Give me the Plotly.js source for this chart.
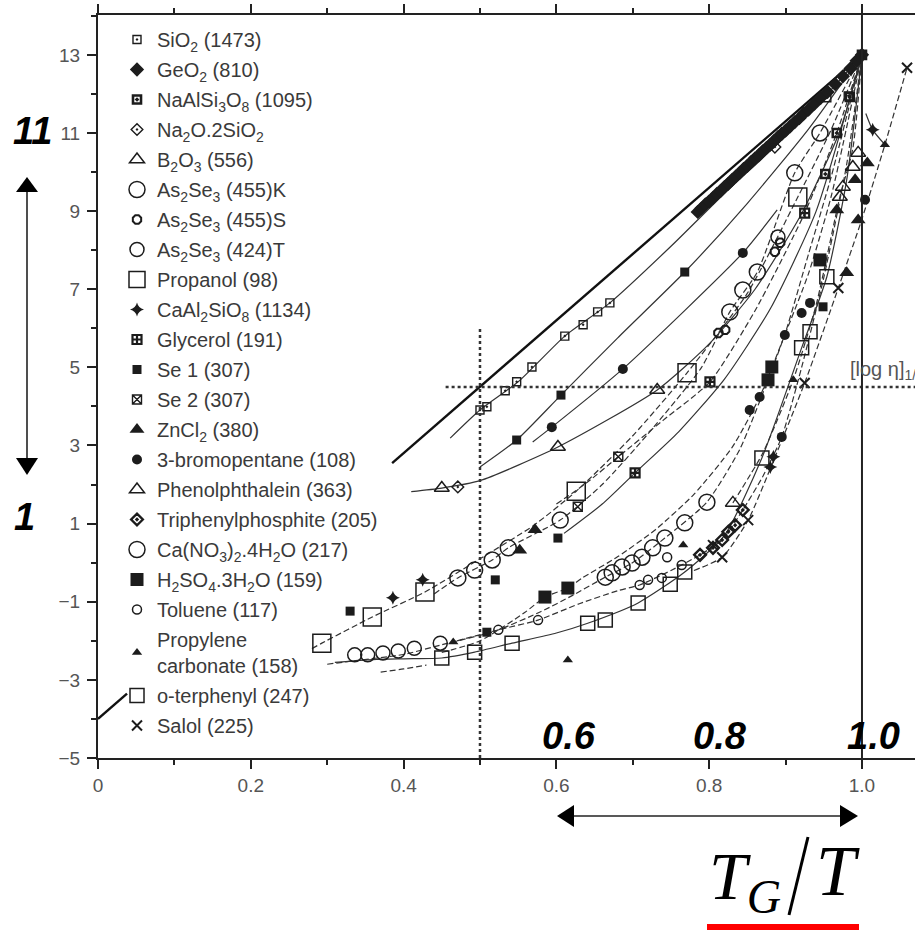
<!DOCTYPE html>
<html><head><meta charset="utf-8">
<script src="https://cdn.plot.ly/plotly-3.0.1.min.js"></script>
<style>html,body{margin:0;padding:0;background:#fff}#chart{width:915px;height:931px}</style>
</head><body><div id="chart"></div>
<script>
// ---------- reference lines ----------
// strong-liquid (Arrhenius) line, drawn in two visible parts as in the original
const strongX = [0, 0.038, null, 0.385, 1.0];
const strongY = [-4, -3.35, null, 2.55, 13];
const tgHalfX = 0.5;          // vertical dotted line
const etaHalfY = 4.5;         // horizontal dotted line [log eta]1/2
const tgOne = 1.0;            // Tg/T = 1

// ---------- curves ----------
const cSio2X = [0.461,0.50,0.55,0.611,0.67,0.75,0.82,0.886,0.95,1.0];
const cSio2Y = [3.19,3.91,4.63,5.80,6.65,8.10,9.45,10.65,11.90,13.0];
const cSe1X = [0.50,0.548,0.606,0.68,0.768,0.85,0.93,1.0];
const cSe1Y = [2.45,3.14,4.29,5.75,7.44,9.20,11.10,13.0];
const cBromX = [0.569,0.594,0.687,0.844,0.889];
const cBromY = [3.09,3.47,4.96,7.93,9.03];
const cB2o3X = [0.41,0.45,0.50,0.602,0.732,0.80,0.86,0.92,0.97,1.0];
const cB2o3Y = [1.82,1.91,2.10,2.96,4.42,5.60,7.00,8.90,11.0,13.0];
const cPropX = [0.28,0.293,0.359,0.428,0.50,0.57,0.626,0.70,0.771,0.85,0.916,0.96,1.0];
const cPropY = [-2.20,-2.06,-1.39,-0.75,0.10,0.95,1.83,3.25,4.86,6.90,9.36,11.10,13.0];
const cAsX = [0.44,0.471,0.516,0.537,0.605,0.66,0.72,0.79,0.827,0.863,0.912,0.945,1.0];
const cAsY = [-0.80,-0.39,0.07,0.38,1.09,2.00,3.30,5.00,6.42,7.44,9.98,11.0,13.0];
const cGlyX = [0.60,0.64,0.681,0.74,0.801,0.86,0.925,0.967,1.0];
const cGlyY = [1.50,2.05,2.71,3.65,4.63,6.45,8.95,11.0,13.0];
const cGly2X = [0.61,0.66,0.703,0.76,0.82,0.88,0.94,1.0];
const cGly2Y = [0.75,1.50,2.30,3.35,4.70,6.50,9.00,13.0];
const cFrag1X = [0.30,0.34,0.40,0.45,0.52,0.58,0.62,0.664,0.699,0.742,0.797,0.84,0.877,0.90,0.93,0.96,1.0];
const cFrag1Y = [-2.60,-2.50,-2.35,-2.10,-1.75,-1.25,-0.85,-0.37,-0.01,0.63,1.55,2.90,4.68,5.90,7.90,9.90,13.0];
const cFrag2X = [0.45,0.50,0.559,0.585,0.615,0.634,0.68,0.73,0.78,0.83,0.866,0.899,0.93,0.96,1.0];
const cFrag2Y = [-2.30,-2.00,-1.27,-0.88,-0.65,-0.39,0.15,0.85,1.75,2.95,4.24,5.83,7.40,9.40,13.0];
const cFrag3X = [0.47,0.524,0.576,0.63,0.68,0.709,0.75,0.788,0.817,0.844,0.87,0.895,0.921,0.95,0.98,1.0];
const cFrag3Y = [-2.00,-1.72,-1.47,-1.05,-0.72,-0.57,-0.20,0.20,0.58,1.35,2.20,3.22,5.00,7.30,10.2,13.0];
const cOtpX = [0.31,0.36,0.40,0.45,0.493,0.542,0.60,0.641,0.707,0.768,0.82,0.869,0.921,0.954,0.98,1.0];
const cOtpY = [-2.55,-2.48,-2.46,-2.44,-2.29,-2.06,-1.80,-1.55,-1.03,-0.24,0.70,2.68,5.50,7.32,9.80,13.0];
const cSalolX = [0.78,0.817,0.851,0.884,0.925,0.969,1.0,1.03,1.059];
const cSalolY = [-0.20,0.14,1.09,2.60,4.60,7.03,8.80,10.70,12.67];
const cPhenX = [0.831,0.87,0.91,0.94,0.971,0.988,1.0];
const cPhenY = [1.53,2.80,4.68,6.60,9.36,10.60,13.0];
const cShortX = [1.005,1.014,1.03];
const cShortY = [11.50,11.08,10.70];
const cLowX = [0.37,0.40,0.43];
const cLowY = [-2.80,-2.72,-2.62];

// ---------- series markers (Tg/T, log viscosity) ----------
const sio2X = [0.500,0.509,0.533,0.548,0.568,0.611,0.635,0.654,0.670,0.954,0.982];
const sio2Y = [3.91,3.99,4.40,4.63,5.01,5.80,6.09,6.42,6.65,11.90,11.95];
const geo2X = [0.785,0.790,0.795,0.800,0.805,0.810,0.815,0.820,0.825,0.830,0.835,0.840,0.845,0.850,0.855,0.860,0.865,0.870,0.875,0.880,0.885,0.890,0.895,0.900,0.906,0.912,0.918,0.924,0.930,0.938,0.946,0.955,0.965,0.975,0.985,0.993,1.000];
const geo2Y = [8.98,9.07,9.17,9.25,9.34,9.44,9.52,9.62,9.70,9.80,9.89,9.98,10.08,10.16,10.26,10.35,10.43,10.53,10.62,10.70,10.80,10.89,10.98,11.06,11.17,11.28,11.38,11.50,11.60,11.75,11.90,12.05,12.25,12.45,12.65,12.85,13.0];
const albX = [0.952,0.967,0.984,1.000];
const albY = [9.95,11.00,11.92,13.00];
const naX = [0.471,0.886];
const naY = [1.94,10.64];
const b2o3X = [0.450,0.602,0.732];
const b2o3Y = [1.91,2.96,4.42];
const askX = [0.471,0.493,0.516,0.537,0.605,0.827,0.844,0.863,0.912,0.945];
const askY = [-0.39,-0.19,0.07,0.38,1.09,6.42,6.98,7.44,9.98,11.00];
const assX = [0.812,0.821,0.886,0.893];
const assY = [5.88,5.96,7.96,8.19];
const astX = [0.336,0.353,0.373,0.393,0.414,0.448,0.890];
const astY = [-2.36,-2.36,-2.31,-2.26,-2.19,-2.06,8.34];
const propX = [0.293,0.359,0.428,0.626,0.771,0.916];
const propY = [-2.06,-1.39,-0.75,1.83,4.86,9.36];
const anorX = [0.386,0.425,0.880,0.884,1.014];
const anorY = [-0.90,-0.44,2.45,2.71,11.08];
const glyX = [0.703,0.801,0.925];
const glyY = [2.30,4.63,8.95];
const se1X = [0.330,0.509,0.520,0.548,0.602,0.606,0.768,0.949];
const se1Y = [-1.24,-1.78,-0.44,3.14,0.63,4.29,7.44,6.55];
const se2X = [0.628,0.681];
const se2Y = [1.43,2.71];
const zncl2X = [0.552,0.572,0.967,0.980,0.991,0.995,1.007];
const zncl2Y = [0.32,0.84,9.03,7.42,9.80,8.77,10.23];
const bromX = [0.594,0.687,0.844,0.853,0.866,0.895,0.899,0.921,0.932,1.004];
const bromY = [3.47,4.96,7.93,3.91,4.24,3.22,5.83,6.39,6.65,9.29];
const phenX = [0.831,0.971,0.975,0.988,0.995];
const phenY = [1.53,9.36,9.62,10.13,10.49];
const tppX = [0.788,0.805,0.817,0.825,0.834,0.844];
const tppY = [0.20,0.38,0.58,0.79,0.96,1.35];
const canX = [0.664,0.673,0.686,0.699,0.712,0.726,0.742,0.768,0.797];
const canY = [-0.37,-0.26,-0.11,-0.01,0.14,0.38,0.63,1.02,1.55];
const h2so4X = [0.585,0.615,0.877,0.882,0.945];
const h2so4Y = [-0.88,-0.65,4.68,5.01,7.75];
const tolX = [0.524,0.576,0.709,0.720,0.738,0.745,0.764];
const tolY = [-1.72,-1.47,-0.57,-0.44,-0.39,0.14,-0.06];
const pcX = [0.465,0.615,0.766,0.910,1.030];
const pcY = [-2.03,-2.49,0.45,4.68,10.70];
const otpX = [0.450,0.493,0.542,0.641,0.664,0.707,0.749,0.768,0.869,0.921,0.932,0.954];
const otpY = [-2.44,-2.29,-2.06,-1.55,-1.47,-1.03,-0.55,-0.24,2.68,5.50,5.91,7.32];
const salolX = [0.805,0.817,0.851,0.925,0.969,1.059];
const salolY = [0.45,0.14,1.09,4.60,7.03,12.67];

const seriesNames = [
  'SiO<sub>2</sub> (1473)','GeO<sub>2</sub> (810)','NaAlSi<sub>3</sub>O<sub>8</sub> (1095)',
  'Na<sub>2</sub>O.2SiO<sub>2</sub>','B<sub>2</sub>O<sub>3</sub> (556)',
  'As<sub>2</sub>Se<sub>3</sub> (455)K','As<sub>2</sub>Se<sub>3</sub> (455)S','As<sub>2</sub>Se<sub>3</sub> (424)T',
  'Propanol (98)','CaAl<sub>2</sub>SiO<sub>8</sub> (1134)','Glycerol (191)','Se 1 (307)','Se 2 (307)',
  'ZnCl<sub>2</sub> (380)','3-bromopentane (108)','Phenolphthalein (363)','Triphenylphosphite (205)',
  'Ca(NO<sub>3</sub>)<sub>2</sub>.4H<sub>2</sub>O (217)','H<sub>2</sub>SO<sub>4</sub>.3H<sub>2</sub>O (159)',
  'Toluene (117)','Propylene<br>carbonate (158)','o-terphenyl (247)','Salol (225)'
];

// ---------- build ----------
const INK = '#1c1c1c';
const curveDefs = [
  [cSio2X,cSio2Y,'solid'],[cSe1X,cSe1Y,'solid'],[cBromX,cBromY,'solid'],[cB2o3X,cB2o3Y,'solid'],
  [cPropX,cPropY,'6px,3px'],[cAsX,cAsY,'6px,3px'],[cGlyX,cGlyY,'6px,3px'],[cGly2X,cGly2Y,'solid'],
  [cFrag1X,cFrag1Y,'6px,3px'],[cFrag2X,cFrag2Y,'6px,3px'],[cFrag3X,cFrag3Y,'6px,3px'],
  [cOtpX,cOtpY,'solid'],[cSalolX,cSalolY,'6px,3px'],[cPhenX,cPhenY,'6px,3px'],
  [cShortX,cShortY,'solid'],[cLowX,cLowY,'6px,3px']
];
const traces = [];
traces.push({type:'scatter',mode:'lines',x:strongX,y:strongY,showlegend:false,hoverinfo:'skip',connectgaps:false,
  line:{color:'#111',width:2.4}});
curveDefs.forEach(c=>traces.push({type:'scatter',mode:'lines',x:c[0],y:c[1],showlegend:false,hoverinfo:'skip',
  line:{color:'#333',width:1.2,dash:c[2],shape:'spline',smoothing:0.6}}));

const markerDefs = [
  [sio2X,sio2Y,'square-open-dot',8,1.4],
  [geo2X,geo2Y,'diamond',11,0],
  [albX,albY,'square-open-dot',8,2.6],
  [naX,naY,'diamond-open-dot',9,1.4],
  [b2o3X,b2o3Y,'triangle-up-open',13,1.5],
  [askX,askY,'circle-open',16,1.5],
  [assX,assY,'octagon-open',9,2],
  [astX,astY,'circle-open',14,1.5],
  [propX,propY,'square-open',18,1.5],
  [anorX,anorY,'star-diamond',10,0],
  [glyX,glyY,'square-cross-open',9,2.2],
  [se1X,se1Y,'square',9,0],
  [se2X,se2Y,'square-x-open',9,1.4],
  [zncl2X,zncl2Y,'triangle-up',13,0],
  [bromX,bromY,'circle',10,0],
  [phenX,phenY,'triangle-up-open',13,1.5],
  [tppX,tppY,'diamond-open-dot',9,2.4],
  [canX,canY,'circle-open',16,1.5],
  [h2so4X,h2so4Y,'square',13,0],
  [tolX,tolY,'circle-open',9,1.5],
  [pcX,pcY,'triangle-up',9,0],
  [otpX,otpY,'square-open',14,1.5],
  [salolX,salolY,'x-thin-open',10,2]
];
markerDefs.forEach((m,i)=>traces.push({type:'scatter',mode:'markers',x:m[0],y:m[1],name:seriesNames[i],
  legendgroup:'g'+i,hoverinfo:'name',
  marker:{symbol:m[2],size:m[3],color:INK,line:{color:INK,width:m[4]}}}));

// paper helpers for overlay placement
const PX = px => (px-98)/817;
const PY = py => (758-py)/743;

const shapes = [
  {type:'line',xref:'x',yref:'y',x0:tgHalfX,x1:tgHalfX,y0:-5,y1:6.0,line:{color:'#333',width:2.5,dash:'dot'}},
  {type:'line',xref:'x',yref:'y',x0:0.455,x1:1.0694,y0:etaHalfY,y1:etaHalfY,line:{color:'#333',width:2.5,dash:'dot'}},
  {type:'line',xref:'x',yref:'paper',x0:tgOne,x1:tgOne,y0:0,y1:1,line:{color:'#222',width:2}},
  // vertical double arrow
  {type:'line',xref:'paper',yref:'paper',x0:PX(27),x1:PX(27),y0:PY(190),y1:PY(460),line:{color:'#222',width:1.6}},
  {type:'path',xref:'paper',yref:'paper',path:`M${PX(27)},${PY(177)} L${PX(16)},${PY(192)} L${PX(38)},${PY(192)} Z`,fillcolor:'#000',line:{width:0}},
  {type:'path',xref:'paper',yref:'paper',path:`M${PX(27)},${PY(475)} L${PX(16)},${PY(458)} L${PX(38)},${PY(458)} Z`,fillcolor:'#000',line:{width:0}},
  // horizontal double arrow
  {type:'line',xref:'paper',yref:'paper',x0:PX(572),x1:PX(842),y0:PY(816),y1:PY(816),line:{color:'#222',width:1.6}},
  {type:'path',xref:'paper',yref:'paper',path:`M${PX(557)},${PY(816)} L${PX(574)},${PY(805)} L${PX(574)},${PY(827)} Z`,fillcolor:'#000',line:{width:0}},
  {type:'path',xref:'paper',yref:'paper',path:`M${PX(858)},${PY(816)} L${PX(840)},${PY(805)} L${PX(840)},${PY(827)} Z`,fillcolor:'#000',line:{width:0}},
  // slash of Tg/T
  {type:'line',xref:'paper',yref:'paper',x0:PX(789),x1:PX(808),y0:PY(915),y1:PY(837),line:{color:'#000',width:3}},
  // red underline
  {type:'rect',xref:'paper',yref:'paper',x0:PX(707),x1:PX(859),y0:PY(930),y1:PY(924),fillcolor:'#ff0000',line:{width:0}}
];

const bigFont = {family:'Liberation Sans, Arial, sans-serif',size:38,color:'#000'};
const serif = {family:'Liberation Serif, Times New Roman, serif',color:'#000'};
const ann = (px,py,text,font,xa) => ({xref:'paper',yref:'paper',x:PX(px),y:PY(py),text:text,showarrow:false,
  xanchor:xa||'center',yanchor:'middle',font:font});
const annotations = [
  {xref:'x',yref:'y',x:0.982,y:4.93,xanchor:'left',yanchor:'middle',showarrow:false,
   text:'[log η]<sub>1/2</sub>',font:{family:'Liberation Sans, Arial, sans-serif',size:20,color:'#555'}},
  ann(32,131,'<b><i>11</i></b>',bigFont),
  ann(24,517,'<b><i>1</i></b>',bigFont),
  ann(569,736,'<b><i>0.6</i></b>',bigFont),
  ann(720,736,'<b><i>0.8</i></b>',bigFont),
  ann(873,736,'<b><i>1.0</i></b>',bigFont),
  ann(707,880,'<i>T<sub>G</sub></i>',Object.assign({size:68},serif),'left'),
  ann(814,871,'<i>T</i>',Object.assign({size:71},serif),'left')
];

const tickFont = {family:'Liberation Sans, Arial, sans-serif',size:19,color:'#555'};
const layout = {
  width:915,height:931,
  margin:{l:98,r:0,t:15,b:173,pad:0},
  paper_bgcolor:'#fff',plot_bgcolor:'#fff',
  showlegend:true,
  legend:{x:PX(117),y:PY(20),xanchor:'left',yanchor:'top',bgcolor:'rgba(0,0,0,0)',borderwidth:0,
    font:{family:'Liberation Sans, Arial, sans-serif',size:20,color:'#3a3a3a'},
    tracegroupgap:1,itemsizing:'trace'},
  xaxis:{range:[0,1.0694],showgrid:false,zeroline:false,showline:true,linecolor:'#222',linewidth:2,
    mirror:'ticks',ticks:'outside',ticklen:9,tickwidth:2,tickcolor:'#222',
    tickmode:'array',tickvals:[0,0.2,0.4,0.6,0.8,1.0],ticktext:['0','0.2','0.4','0.6','0.8','1.0'],
    tickfont:tickFont,ticklabelstandoff:0,
    minor:{tickmode:'array',tickvals:[0.1,0.3,0.5,0.7,0.9],ticks:'outside',ticklen:5,tickwidth:2,tickcolor:'#222',showgrid:false}},
  yaxis:{range:[-5,14.02],showgrid:false,zeroline:false,showline:true,linecolor:'#222',linewidth:2,
    ticks:'outside',ticklen:9,tickwidth:2,tickcolor:'#222',tickmode:'linear',tick0:-5,dtick:2,
    tickfont:tickFont,ticklabelstandoff:3,
    minor:{dtick:1,tick0:0,ticks:'outside',ticklen:5,tickwidth:2,tickcolor:'#222',showgrid:false}},
  shapes:shapes,annotations:annotations
};
Plotly.newPlot('chart',traces,layout,{displayModeBar:false,staticPlot:true});
</script></body></html>
